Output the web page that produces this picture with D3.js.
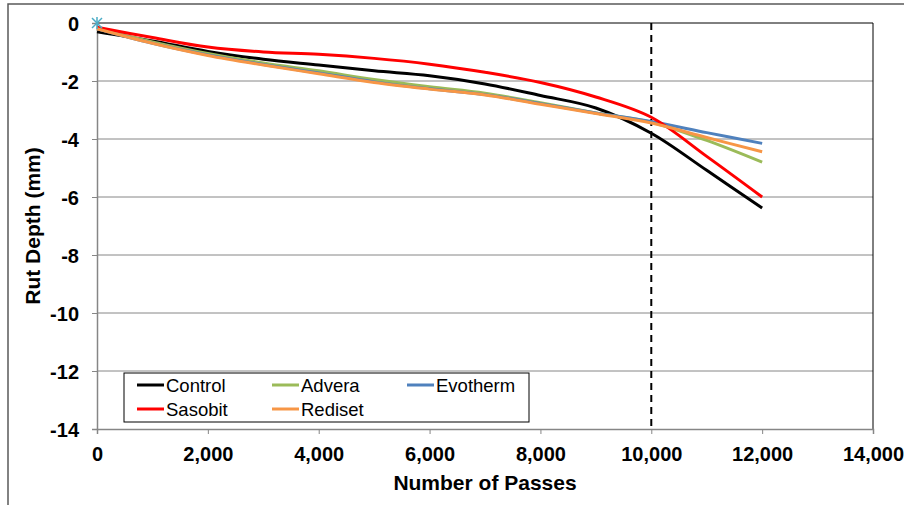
<!DOCTYPE html>
<html>
<head>
<meta charset="utf-8">
<script src="https://cdn.jsdelivr.net/npm/d3@7"></script>
<style>
  body { margin: 0; background: #fff; }
  svg { display: block; font-family: "Liberation Sans", Arial, sans-serif; }
</style>
</head>
<body>
<div id="chart"></div>
<script>
// Rut depth vs number of passes, one array per mix
var passes   = [0, 1000, 2000, 3000, 4000, 5000, 6000, 7000, 8000, 9000, 10000, 11000, 12000];
var control  = [-0.3, -0.62, -0.98, -1.25, -1.45, -1.65, -1.82, -2.1, -2.5, -2.93, -3.8, -5.08, -6.38];
var advera   = [-0.2, -0.65, -1.05, -1.38, -1.65, -1.95, -2.2, -2.42, -2.75, -3.1, -3.42, -4.05, -4.8];
var evotherm = [-0.2, -0.7, -1.1, -1.43, -1.72, -2.03, -2.27, -2.47, -2.78, -3.1, -3.4, -3.78, -4.15];
var sasobit  = [-0.15, -0.5, -0.83, -1.0, -1.08, -1.22, -1.42, -1.7, -2.05, -2.55, -3.25, -4.6, -6.0];
var rediset  = [-0.2, -0.7, -1.12, -1.45, -1.75, -2.05, -2.28, -2.48, -2.8, -3.12, -3.45, -3.95, -4.44];

var seriesNames  = ['Control', 'Advera', 'Evotherm', 'Sasobit', 'Rediset'];
var seriesValues = [control, advera, evotherm, sasobit, rediset];
var seriesColors = ['#000000', '#9BBB59', '#4F81BD', '#FF0000', '#F79646'];

var xTicks = [0, 2000, 4000, 6000, 8000, 10000, 12000, 14000];
var yTicks = [0, -2, -4, -6, -8, -10, -12, -14];
var markPass = 10000;   // dashed reference line

var width = 904, height = 505;
var margin = { top: 23, right: 31, bottom: 76, left: 97 };
var AXIS_COLOR = '#868686';

var svg = d3.select('#chart').append('svg')
  .attr('width', width)
  .attr('height', height);

// outer chart frame (cut at right/bottom like the picture)
svg.append('path')
  .attr('d', 'M8,505 L8,4 L904,4')
  .attr('fill', 'none')
  .attr('stroke', '#595959')
  .attr('stroke-width', 1.5);

var x = d3.scaleLinear().domain([0, 14000]).range([margin.left, width - margin.right]);
var y = d3.scaleLinear().domain([-14, 0]).range([height - margin.bottom, margin.top]);

// gridlines
svg.append('g')
  .selectAll('line')
  .data(yTicks.filter(function(d) { return d !== 0 && d !== -14; }))
  .enter()
  .append('line')
  .attr('x1', x(0)).attr('x2', x(14000))
  .attr('y1', function(d) { return y(d); })
  .attr('y2', function(d) { return y(d); })
  .attr('stroke', AXIS_COLOR)
  .attr('stroke-width', 1);

// plot border, top and right
svg.append('path')
  .attr('d', 'M' + x(0) + ',' + y(0) + 'L' + x(14000) + ',' + y(0) + 'L' + x(14000) + ',' + y(-14))
  .attr('fill', 'none')
  .attr('stroke', '#000')
  .attr('stroke-width', 1);

// axes
var xAxis = d3.axisBottom(x).tickValues(xTicks).tickSize(5).tickFormat(d3.format(','));
var yAxis = d3.axisLeft(y).tickValues(yTicks).tickSize(5).tickFormat(d3.format('d'));

var gx = svg.append('g')
  .attr('transform', 'translate(0,' + y(-14) + ')')
  .call(xAxis);
var gy = svg.append('g')
  .attr('transform', 'translate(' + x(0) + ',0)')
  .call(yAxis);

[gx, gy].forEach(function(g) {
  g.select('.domain').attr('stroke', AXIS_COLOR).attr('stroke-width', 1.5);
  g.selectAll('.tick line').attr('stroke', AXIS_COLOR).attr('stroke-width', 1);
  g.selectAll('.tick text')
    .attr('fill', '#000')
    .attr('font-size', '20px')
    .attr('font-weight', 'bold')
    .attr('font-family', '"Liberation Sans", Arial, sans-serif');
});
gx.selectAll('.tick text').attr('dy', '0.71em').attr('y', 18);
gy.selectAll('.tick text').attr('x', -18).attr('dy', '0.35em')
  .text(function(d) { return d === 0 ? '0' : d3.format('d')(d).replace('−', '-'); });

// axis titles
svg.append('text')
  .attr('x', (x(0) + x(14000)) / 2)
  .attr('y', 490)
  .attr('text-anchor', 'middle')
  .attr('font-size', '21px')
  .attr('font-weight', 'bold')
  .text('Number of Passes');

svg.append('text')
  .attr('transform', 'translate(40,' + ((y(0) + y(-14)) / 2) + ') rotate(-90)')
  .attr('text-anchor', 'middle')
  .attr('font-size', '21px')
  .attr('font-weight', 'bold')
  .text('Rut Depth (mm)');

// dashed line at 10,000 passes
svg.append('line')
  .attr('x1', x(markPass)).attr('x2', x(markPass))
  .attr('y1', y(0)).attr('y2', y(-14))
  .attr('stroke', '#000')
  .attr('stroke-width', 2)
  .attr('stroke-dasharray', '7,5');

// series lines
var line = d3.line()
  .x(function(d) { return x(d[0]); })
  .y(function(d) { return y(d[1]); })
  .curve(d3.curveCatmullRom.alpha(0.5));

svg.append('g')
  .selectAll('path')
  .data(seriesValues)
  .enter()
  .append('path')
  .attr('d', function(vals) { return line(vals.map(function(v, i) { return [passes[i], v]; })); })
  .attr('fill', 'none')
  .attr('stroke', function(d, i) { return seriesColors[i]; })
  .attr('stroke-width', 3)
  .attr('stroke-linejoin', 'round');

// star marker at origin
var star = svg.append('g')
  .attr('transform', 'translate(' + x(0) + ',' + y(0) + ')')
  .attr('stroke', '#4BACC6')
  .attr('stroke-width', 1.5);
star.append('line').attr('x1', -5).attr('y1', -5).attr('x2', 5).attr('y2', 5);
star.append('line').attr('x1', -5).attr('y1', 5).attr('x2', 5).attr('y2', -5);
star.append('line').attr('x1', 0).attr('y1', -6).attr('x2', 0).attr('y2', 6);

// legend
var legend = svg.append('g').attr('transform', 'translate(124,373)');
legend.append('rect')
  .attr('width', 405).attr('height', 49)
  .attr('fill', '#fff')
  .attr('stroke', '#000')
  .attr('stroke-width', 1);

var legendItems = legend.selectAll('g')
  .data(seriesNames)
  .enter()
  .append('g')
  .attr('transform', function(d, i) {
    return 'translate(' + (13 + (i % 3) * 135) + ',' + (12 + Math.floor(i / 3) * 24) + ')';
  });
legendItems.append('line')
  .attr('x1', 0).attr('x2', 27)
  .attr('stroke', function(d, i) { return seriesColors[i]; })
  .attr('stroke-width', 3);
legendItems.append('text')
  .attr('x', 29)
  .attr('dy', '0.36em')
  .attr('font-size', '18.5px')
  .text(function(d) { return d; });
</script>
</body>
</html>
